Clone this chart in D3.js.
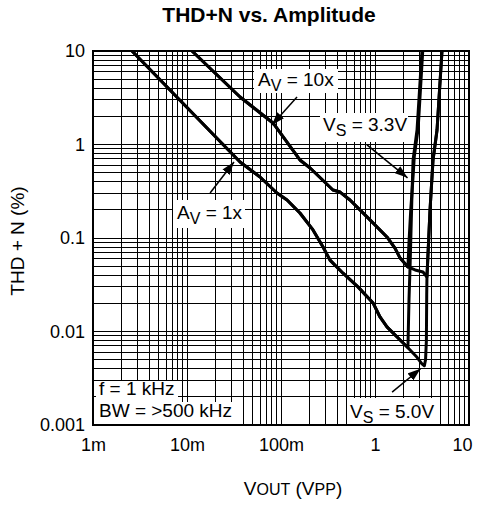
<!DOCTYPE html>
<html>
<head>
<meta charset="utf-8">
<script src="https://cdn.jsdelivr.net/npm/d3@7"></script>
<style>
body { margin: 0; background: #fff; }
svg { display: block; font-family: "Liberation Sans", Arial, Helvetica, sans-serif; }
</style>
</head>
<body>
<svg width="478" height="507"></svg>
<script>
// tick labels
var xTicks = [0.001, 0.01, 0.1, 1, 10];
var xTickLabels = ["1m", "10m", "100m", "1", "10"];
var yTicks = [0.001, 0.01, 0.1, 1, 10];
var yTickLabels = ["0.001", "0.01", "0.1", "1", "10"];

// Av = 1x, shared part of both supplies
var vout1x = [0.0026, 0.0367, 0.0598, 0.0906, 0.116, 0.159, 0.219, 0.280, 0.332, 0.457, 0.659, 0.953, 1.13, 1.34, 1.85, 2.24];
var thd1x  = [10, 0.65, 0.449, 0.303, 0.255, 0.185, 0.122, 0.080, 0.058, 0.042, 0.030, 0.0202, 0.0143, 0.0112, 0.0081, 0.0067];
// Av = 1x tails
var vout1x5v  = [2.80, 3.16, 3.35, 3.45, 3.52, 3.55, 3.57, 3.85, 4.14, 4.57, 5.16];
var thd1x5v   = [0.0053, 0.0045, 0.0043, 0.0050, 0.0080, 0.025, 0.038, 0.2, 0.68, 1.43, 10];
var vout1x33v = [2.30, 2.36, 2.47, 2.54, 2.80, 3.16];
var thd1x33v  = [0.022, 0.049, 0.275, 0.68, 1.43, 10];

// Av = 10x, shared part
var vout10x = [0.0113, 0.0367, 0.0822, 0.159, 0.204, 0.357, 0.425, 0.542, 0.822, 1.34, 1.63, 1.85, 2.24];
var thd10x  = [10, 3.22, 1.70, 0.683, 0.561, 0.326, 0.31, 0.255, 0.168, 0.1026, 0.078, 0.061, 0.049];
// Av = 10x tails
var vout10x5v  = [2.67, 3.24, 3.57, 3.85, 4.14, 4.57, 5.16];
var thd10x5v   = [0.0455, 0.0433, 0.0383, 0.2, 0.68, 1.43, 10];
var vout10x33v = [2.30, 2.40, 2.52, 2.62, 2.88, 3.22];
var thd10x33v  = [0.09, 0.2, 0.4, 0.75, 1.5, 10];

var LEFT = 93, RIGHT = 469, TOP = 51, BOTTOM = 425;

var svg = d3.select("svg");

var x = d3.scaleLog().domain([0.001, 10]).range([LEFT, RIGHT]);
var y = d3.scaleLog().domain([0.001, 10]).range([BOTTOM, TOP]);

function zip(xs, ys) {
	return xs.map(function (v, i) { return [v, ys[i]]; });
}

var series = [
	zip(vout1x, thd1x).concat(zip(vout1x5v, thd1x5v)),
	zip(vout1x, thd1x).concat(zip(vout1x33v, thd1x33v)),
	zip(vout10x, thd10x).concat(zip(vout10x5v, thd10x5v)),
	zip(vout10x, thd10x).concat(zip(vout10x33v, thd10x33v))
];

// log grid
var grid = [];
[0.001, 0.01, 0.1, 1].forEach(function (d) {
	for (var k = 1; k < 10; k++) grid.push(d * k);
});
grid.push(10);

var gridG = svg.append("g")
	.attr("stroke", "#000")
	.attr("stroke-width", 1)
	.attr("shape-rendering", "crispEdges");

gridG.selectAll(".vx")
	.data(grid)
	.enter().append("line")
	.attr("x1", function (d) { return x(d); })
	.attr("x2", function (d) { return x(d); })
	.attr("y1", TOP)
	.attr("y2", BOTTOM);

gridG.selectAll(".hy")
	.data(grid)
	.enter().append("line")
	.attr("y1", function (d) { return y(d); })
	.attr("y2", function (d) { return y(d); })
	.attr("x1", LEFT)
	.attr("x2", RIGHT);

svg.append("rect")
	.attr("x", LEFT)
	.attr("y", TOP)
	.attr("width", RIGHT - LEFT)
	.attr("height", BOTTOM - TOP)
	.attr("fill", "none")
	.attr("stroke", "#000")
	.attr("stroke-width", 2);

// white label boxes over the grid
var boxes = [
	[254, 69, 84, 24],
	[320, 113, 88, 29],
	[173, 200, 72, 28],
	[96, 381, 82, 21],
	[96, 402, 138, 22],
	[348, 398, 87, 26]
];
svg.append("g").selectAll("rect")
	.data(boxes)
	.enter().append("rect")
	.attr("x", function (d) { return d[0]; })
	.attr("y", function (d) { return d[1]; })
	.attr("width", function (d) { return d[2]; })
	.attr("height", function (d) { return d[3]; })
	.attr("fill", "#fff");

// curves
svg.append("clipPath").attr("id", "plot")
	.append("rect")
	.attr("x", LEFT).attr("y", TOP)
	.attr("width", RIGHT - LEFT).attr("height", BOTTOM - TOP);

var line = d3.line()
	.x(function (d) { return x(d[0]); })
	.y(function (d) { return y(d[1]); });

svg.append("g")
	.attr("clip-path", "url(#plot)")
	.selectAll("path")
	.data(series)
	.enter().append("path")
	.attr("d", line)
	.attr("fill", "none")
	.attr("stroke", "#000")
	.attr("stroke-width", 3)
	.attr("stroke-linejoin", "round");

// axes
var xAxis = svg.append("g")
	.attr("transform", "translate(0," + BOTTOM + ")")
	.call(d3.axisBottom(x)
		.tickValues(xTicks)
		.tickFormat(function (d, i) { return xTickLabels[i]; })
		.tickSize(0)
		.tickPadding(13));
xAxis.select(".domain").remove();
xAxis.attr("font-size", 18).attr("font-family", null);
// last label sits inside the right edge
xAxis.selectAll("text").filter(function (d) { return d === 10; }).attr("dx", -7);

var yAxis = svg.append("g")
	.attr("transform", "translate(" + LEFT + ",0)")
	.call(d3.axisLeft(y)
		.tickValues(yTicks)
		.tickFormat(function (d, i) { return yTickLabels[i]; })
		.tickSize(0)
		.tickPadding(8));
yAxis.select(".domain").remove();
yAxis.attr("font-size", 18).attr("font-family", null);

// arrows
var defs = svg.append("defs");
defs.append("marker")
	.attr("id", "head")
	.attr("markerUnits", "userSpaceOnUse")
	.attr("markerWidth", 13)
	.attr("markerHeight", 9)
	.attr("refX", 13)
	.attr("refY", 4.5)
	.attr("orient", "auto")
	.append("path")
	.attr("d", "M0,0L13,4.5L0,9Z")
	.attr("fill", "#000");

var arrows = [
	[[0.148, 3.22], [0.080, 1.62]],
	[[0.822, 0.99], [2.22, 0.44]],
	[[0.0176, 0.303], [0.0316, 0.65]],
	[[1.52, 0.00225], [3.05, 0.0040]]
];
svg.append("g").selectAll("line")
	.data(arrows)
	.enter().append("line")
	.attr("x1", function (d) { return x(d[0][0]); })
	.attr("y1", function (d) { return y(d[0][1]); })
	.attr("x2", function (d) { return x(d[1][0]); })
	.attr("y2", function (d) { return y(d[1][1]); })
	.attr("stroke", "#000")
	.attr("stroke-width", 1.5)
	.attr("marker-end", "url(#head)");

// text with subscripts
function richText(px, py, parts, size, subSize, shift, anchor) {
	var t = svg.append("text")
		.attr("x", px)
		.attr("y", py)
		.attr("font-size", size)
		.attr("text-anchor", anchor || "start");
	var down = 0;
	parts.forEach(function (p) {
		var s = t.append("tspan").text(p[0]);
		if (p[1]) {
			s.attr("font-size", subSize).attr("dy", shift - down);
			down = shift;
		} else {
			s.attr("dy", -down);
			down = 0;
		}
	});
	return t;
}

richText(258, 86, [["A", 0], ["V", 1], [" = 10x", 0]], 19, 16, 5);
richText(323, 131, [["V", 0], ["S", 1], [" = 3.3V", 0]], 19, 16, 5);
richText(177, 219, [["A", 0], ["V", 1], [" = 1x", 0]], 19, 16, 5);
richText(350, 418, [["V", 0], ["S", 1], [" = 5.0V", 0]], 19, 16, 5);
richText(99, 395, [["f = 1 kHz", 0]], 19, 16, 0);
richText(99, 417, [["BW = >500 kHz", 0]], 19, 16, 0);

// titles
svg.append("text")
	.attr("x", 269)
	.attr("y", 22)
	.attr("text-anchor", "middle")
	.attr("font-size", 21)
	.attr("font-weight", "bold")
	.text("THD+N vs. Amplitude");

richText(293, 495, [["V", 0], ["OUT", 1], [" (V", 0], ["PP", 1], [")", 0]], 19, 16, 0, "middle");

svg.append("text")
	.attr("transform", "translate(24,241) rotate(-90)")
	.attr("text-anchor", "middle")
	.attr("font-size", 19)
	.text("THD + N (%)");
</script>
</body>
</html>
